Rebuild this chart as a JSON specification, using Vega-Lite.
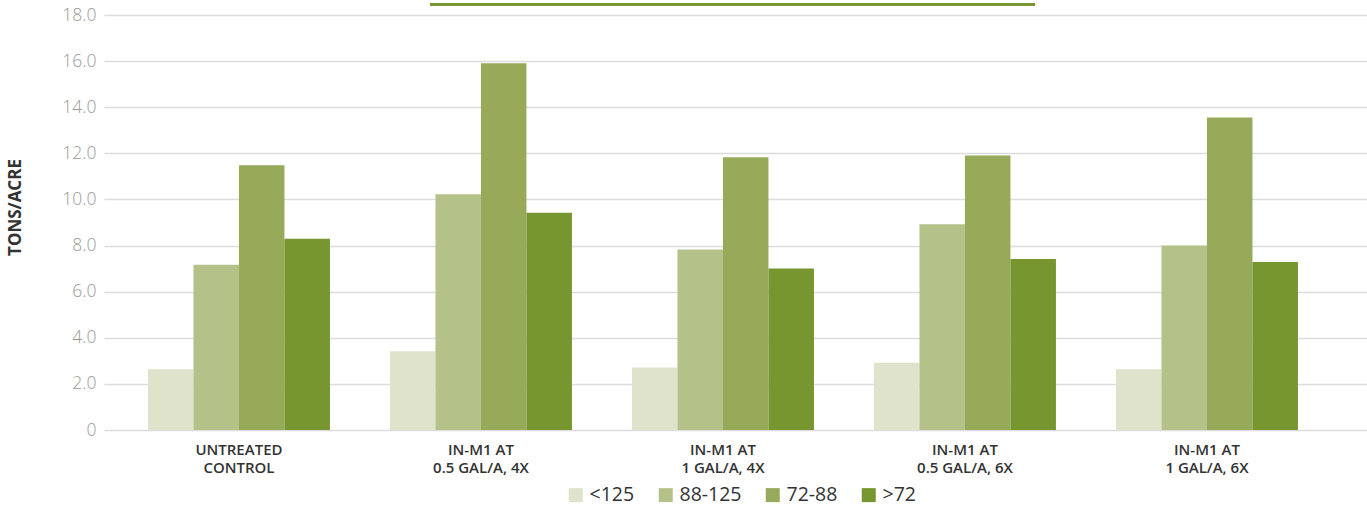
{
  "$schema": "https://vega.github.io/schema/vega-lite/v6.json",
  "width": 1263,
  "height": 415,
  "autosize": {"type": "none"},
  "padding": {"left": 104, "top": 15, "right": 0, "bottom": 76},
  "background": "white",
  "config": {"view": {"stroke": null}, "font": "Open Sans"},
  "data": {
    "values": [
      {"treatment": "UNTREATED CONTROL", "size": "<125", "tons": 2.63},
      {"treatment": "UNTREATED CONTROL", "size": "88-125", "tons": 7.17},
      {"treatment": "UNTREATED CONTROL", "size": "72-88", "tons": 11.48},
      {"treatment": "UNTREATED CONTROL", "size": ">72", "tons": 8.29},
      {"treatment": "IN-M1 AT 0.5 GAL/A, 4X", "size": "<125", "tons": 3.42},
      {"treatment": "IN-M1 AT 0.5 GAL/A, 4X", "size": "88-125", "tons": 10.22},
      {"treatment": "IN-M1 AT 0.5 GAL/A, 4X", "size": "72-88", "tons": 15.91},
      {"treatment": "IN-M1 AT 0.5 GAL/A, 4X", "size": ">72", "tons": 9.42},
      {"treatment": "IN-M1 AT 1 GAL/A, 4X", "size": "<125", "tons": 2.71},
      {"treatment": "IN-M1 AT 1 GAL/A, 4X", "size": "88-125", "tons": 7.83},
      {"treatment": "IN-M1 AT 1 GAL/A, 4X", "size": "72-88", "tons": 11.83},
      {"treatment": "IN-M1 AT 1 GAL/A, 4X", "size": ">72", "tons": 7.0},
      {"treatment": "IN-M1 AT 0.5 GAL/A, 6X", "size": "<125", "tons": 2.92},
      {"treatment": "IN-M1 AT 0.5 GAL/A, 6X", "size": "88-125", "tons": 8.92},
      {"treatment": "IN-M1 AT 0.5 GAL/A, 6X", "size": "72-88", "tons": 11.91},
      {"treatment": "IN-M1 AT 0.5 GAL/A, 6X", "size": ">72", "tons": 7.42},
      {"treatment": "IN-M1 AT 1 GAL/A, 6X", "size": "<125", "tons": 2.63},
      {"treatment": "IN-M1 AT 1 GAL/A, 6X", "size": "88-125", "tons": 8.0},
      {"treatment": "IN-M1 AT 1 GAL/A, 6X", "size": "72-88", "tons": 13.55},
      {"treatment": "IN-M1 AT 1 GAL/A, 6X", "size": ">72", "tons": 7.29}
    ]
  },
  "encoding": {
    "x": {
      "field": "treatment",
      "type": "nominal",
      "sort": ["UNTREATED CONTROL", "IN-M1 AT 0.5 GAL/A, 4X", "IN-M1 AT 1 GAL/A, 4X", "IN-M1 AT 0.5 GAL/A, 6X", "IN-M1 AT 1 GAL/A, 6X"],
      "scale": {"paddingInner": 0.248, "paddingOuter": 0.2335, "align": 0.389},
      "axis": {
        "title": null,
        "labelAngle": 0,
        "domain": false,
        "ticks": false,
        "grid": false,
        "labelPadding": 12,
        "labelFontSize": 15,
        "labelFontWeight": 600,
        "labelColor": "#333333",
        "labelLineHeight": 18,
        "labelBaseline": "top",
        "labelExpr": "datum.label == 'UNTREATED CONTROL' ? ['UNTREATED','CONTROL'] : ['IN-M1 AT', substring(datum.label, 9)]"
      }
    }
  },
  "layer": [
    {
      "mark": {"type": "bar"},
      "encoding": {
        "xOffset": {
          "field": "size",
          "type": "nominal",
          "sort": ["<125", "88-125", "72-88", ">72"],
          "scale": {"paddingInner": 0, "paddingOuter": 0}
        },
        "y": {
          "field": "tons",
          "type": "quantitative",
          "scale": {"domain": [0, 18], "nice": false},
          "axis": {
            "title": "TONS/ACRE",
            "titleFontSize": 17,
            "titleFontWeight": "bold",
            "titleColor": "#333333",
            "titleAngle": -90,
            "titleX": -80,
            "titleY": 192,
            "titleAlign": "center",
            "titleBaseline": "bottom",
            "values": [0, 2, 4, 6, 8, 10, 12, 14, 16, 18],
            "labelExpr": "datum.value == 0 ? '0' : format(datum.value, '.1f')",
            "labelFontSize": 17.5,
            "labelFontWeight": 300,
            "labelColor": "#9a9a9a",
            "labelPadding": 8,
            "domain": false,
            "ticks": false,
            "gridColor": "#dcdcdc",
            "gridWidth": 1.5
          }
        },
        "color": {
          "field": "size",
          "type": "nominal",
          "scale": {
            "domain": ["<125", "88-125", "72-88", ">72"],
            "range": ["#dfe3cb", "#b4c28a", "#97aa5a", "#77962f"]
          },
          "legend": {
            "title": null,
            "orient": "none",
            "legendX": 462,
            "legendY": 470,
            "direction": "horizontal",
            "symbolType": "square",
            "symbolSize": 196,
            "symbolStrokeWidth": 0,
            "labelFontSize": 19.5,
            "labelColor": "#333333",
            "labelOffset": 4,
            "columnPadding": 21
          }
        }
      }
    },
    {
      "mark": {"type": "rule", "color": "#77962f", "strokeWidth": 2},
      "encoding": {
        "x": {"datum": "IN-M1 AT 0.5 GAL/A, 4X", "bandPosition": 0.22},
        "x2": {"datum": "IN-M1 AT 0.5 GAL/A, 6X", "bandPosition": 0.885},
        "y": {"datum": 18.47}
      }
    }
  ]
}
